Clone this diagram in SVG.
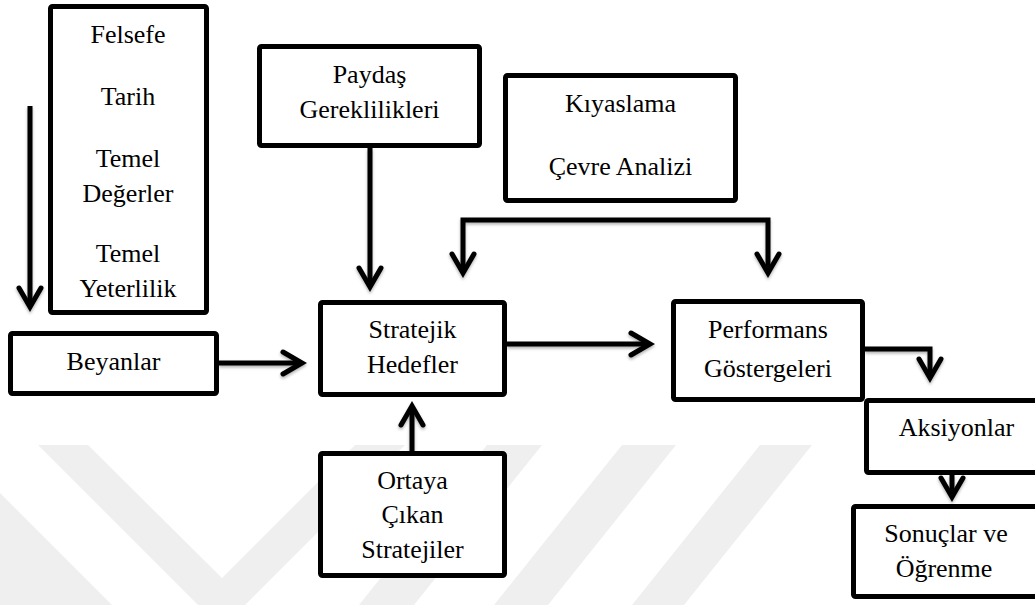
<svg xmlns="http://www.w3.org/2000/svg" width="1035" height="605" viewBox="0 0 1035 605">
  <style>
    .box { fill: #ffffff; stroke: #000000; stroke-width: 5; }
    .lbl { font-family: 'Liberation Serif', 'Times New Roman', serif; font-size: 26px; fill: #000000; text-anchor: middle; }
    .wire { fill: none; stroke: #000000; stroke-width: 5; stroke-linejoin: miter; }
    .wm { fill: #efefef; }
  </style>
  <defs>
    <marker id="chev" markerUnits="userSpaceOnUse" viewBox="-26 -16 32 32" markerWidth="32" markerHeight="32" refX="0" refY="0" orient="auto-start-reverse" overflow="visible">
      <path d="M-19,-11 L0,0 L-19,11" fill="none" stroke="#000000" stroke-width="5" stroke-linecap="round" stroke-linejoin="miter"/>
    </marker>
    <filter id="soft" x="-20%" y="-20%" width="140%" height="140%">
      <feDropShadow dx="0" dy="2" stdDeviation="1.5" flood-color="#000000" flood-opacity="0.3"/>
    </filter>
  </defs>

  <!-- background stripes -->
  <g id="watermark">
    <polygon class="wm" points="0,493 112,605 0,605"/>
    <polygon class="wm" points="38,445 88,445 222,578 355,445 405,445 245,605 198,605"/>
    <polygon class="wm" points="487,445 542,445 414,605 359,605"/>
    <polygon class="wm" points="622,445 676,445 548,605 494,605"/>
    <polygon class="wm" points="760,445 812,445 684,605 632,605"/>
  </g>

  <!-- connectors -->
  <g id="connectors" filter="url(#soft)">
    <path class="wire" d="M30,106 V307" marker-end="url(#chev)"/>
    <path class="wire" d="M370,148 V287" marker-end="url(#chev)"/>
    <path class="wire" d="M463,273 V220 H768 V273" marker-start="url(#chev)" marker-end="url(#chev)"/>
    <path class="wire" d="M219,363 H302" marker-end="url(#chev)"/>
    <path class="wire" d="M412,451 V406" marker-end="url(#chev)"/>
    <path class="wire" d="M507,344 H650" marker-end="url(#chev)"/>
    <path class="wire" d="M865,349 H930 V378" marker-end="url(#chev)"/>
    <path class="wire" d="M952,475 V497" marker-end="url(#chev)"/>
  </g>

  <g id="temeller">
    <rect class="box" x="50.5" y="6.5" width="156" height="306" rx="2"/>
    <text class="lbl" x="128" y="43">Felsefe</text>
    <text class="lbl" x="128" y="105">Tarih</text>
    <text class="lbl" x="128" y="167">Temel</text>
    <text class="lbl" x="128" y="202">Değerler</text>
    <text class="lbl" x="128" y="262">Temel</text>
    <text class="lbl" x="128" y="297">Yeterlilik</text>
  </g>

  <g id="paydas">
    <rect class="box" x="259.5" y="46.5" width="220" height="99" rx="2"/>
    <text class="lbl" x="369.5" y="83">Paydaş</text>
    <text class="lbl" x="369.5" y="118">Gereklilikleri</text>
  </g>

  <g id="kiyaslama">
    <rect class="box" x="505.5" y="75.5" width="230" height="125" rx="2"/>
    <text class="lbl" x="620.5" y="112">Kıyaslama</text>
    <text class="lbl" x="620.5" y="175">Çevre Analizi</text>
  </g>

  <g id="beyanlar">
    <rect class="box" x="10.5" y="333.5" width="206" height="60" rx="2"/>
    <text class="lbl" x="113.5" y="370">Beyanlar</text>
  </g>

  <g id="stratejik">
    <rect class="box" x="320.5" y="302.5" width="184" height="92" rx="2"/>
    <text class="lbl" x="412.5" y="338">Stratejik</text>
    <text class="lbl" x="412.5" y="373">Hedefler</text>
  </g>

  <g id="ortaya">
    <rect class="box" x="320.5" y="453.5" width="184" height="122" rx="2"/>
    <text class="lbl" x="412.5" y="489">Ortaya</text>
    <text class="lbl" x="412.5" y="523">Çıkan</text>
    <text class="lbl" x="412.5" y="558">Stratejiler</text>
  </g>

  <g id="performans">
    <rect class="box" x="673.5" y="301.5" width="189" height="98" rx="2"/>
    <text class="lbl" x="768" y="338">Performans</text>
    <text class="lbl" x="768" y="377">Göstergeleri</text>
  </g>

  <g id="aksiyonlar">
    <rect class="box" x="866.5" y="400.5" width="185" height="72" rx="2"/>
    <text class="lbl" x="956.5" y="436">Aksiyonlar</text>
  </g>

  <g id="sonuclar">
    <rect class="box" x="853.5" y="506.5" width="195" height="90" rx="2"/>
    <text class="lbl" x="946" y="542">Sonuçlar ve</text>
    <text class="lbl" x="944" y="577">Öğrenme</text>
  </g>
</svg>
